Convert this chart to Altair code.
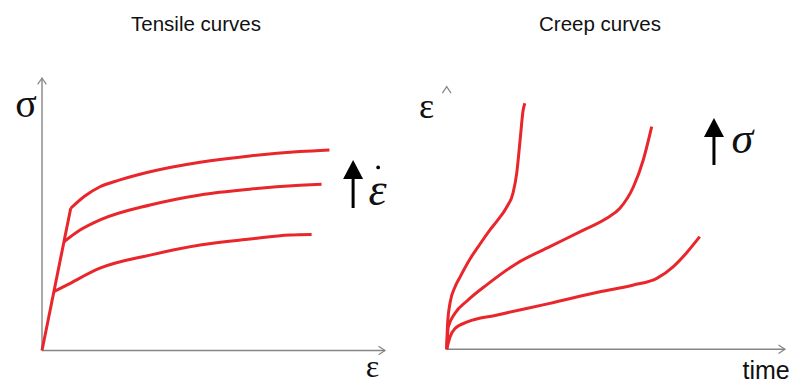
import altair as alt
import pandas as pd

# ---------------- Tensile panel (strain, stress; axis length = 1) ----------------
elastic_strain = [0.0, 0.0837]
elastic_stress = [0.0, 0.522]
tens_high_strain = [0.0837, 0.125, 0.169, 0.227, 0.315, 0.461, 0.606, 0.752, 0.838]
tens_high_stress = [0.522, 0.567, 0.601, 0.626, 0.656, 0.691, 0.714, 0.730, 0.736]
tens_mid_strain = [0.064, 0.111, 0.169, 0.315, 0.461, 0.606, 0.752, 0.815]
tens_mid_stress = [0.399, 0.442, 0.479, 0.534, 0.571, 0.592, 0.606, 0.610]
tens_low_strain = [0.0346, 0.072, 0.169, 0.315, 0.461, 0.606, 0.723, 0.786]
tens_low_stress = [0.216, 0.240, 0.302, 0.350, 0.387, 0.409, 0.424, 0.426]

# ---------------- Creep panel (time, strain; axis length = 1) ----------------
creep_high_time = [0.0, 0.0024, 0.0098, 0.0245, 0.0393, 0.0689, 0.0985, 0.128, 0.149, 0.178, 0.196, 0.207, 0.217, 0.226, 0.231]
creep_high_strain = [0.0, 0.0925, 0.176, 0.237, 0.275, 0.344, 0.401, 0.455, 0.489, 0.543, 0.595, 0.671, 0.797, 0.911, 0.937]
creep_mid_time = [0.0, 0.0047, 0.0245, 0.060, 0.122, 0.207, 0.305, 0.404, 0.473, 0.512, 0.552, 0.581, 0.606]
creep_mid_strain = [0.0, 0.085, 0.137, 0.184, 0.249, 0.327, 0.391, 0.454, 0.499, 0.537, 0.619, 0.721, 0.848]
creep_low_time = [0.0, 0.0098, 0.0245, 0.063, 0.143, 0.305, 0.453, 0.552, 0.621, 0.670, 0.708, 0.748]
creep_low_strain = [0.0, 0.047, 0.079, 0.105, 0.129, 0.175, 0.219, 0.245, 0.270, 0.315, 0.366, 0.429]

# ---------------- labels ----------------
tens_title = ["Tensile curves"]
creep_title = ["Creep curves"]
tens_y_label, tens_x_label, tens_rate_label = "σ", "ε", "ε"
creep_y_label, creep_x_label, creep_stress_label = "ε", "time", "σ"

RED = "#e8262b"
GRAY = "#858585"
W, H = 781, 377

# scale domains chosen so that each panel sits in its half of the canvas
xl = alt.Scale(domain=[-0.09913, 2.17784], nice=False, zero=False)
yl = alt.Scale(domain=[-0.1266, 1.25688], nice=False, zero=False)
xr = alt.Scale(domain=[-1.29678, 1.01182], nice=False, zero=False)
yr = alt.Scale(domain=[-0.1359, 1.29970], nice=False, zero=False)

UP_CHEVRON = "M-1,1.5L0,0L1,1.5"
RIGHT_CHEVRON = "M-1.5,-1L0,0L-1.5,1"
ARROW_HEAD = "M0,0L-1,1.9L1,1.9Z"


def curves(series, xs_scale, ys_scale):
    rows = []
    for name, xs, ys in series:
        for a, b in zip(xs, ys):
            rows.append({"s": name, "x": a, "y": b})
    df = pd.DataFrame(rows)
    return alt.Chart(df).mark_line(color=RED, strokeWidth=3, interpolate="monotone").encode(
        x=alt.X("x:Q", scale=xs_scale, axis=None),
        y=alt.Y("y:Q", scale=ys_scale, axis=None),
        detail="s:N",
    )


def rules(rows, xs_scale, ys_scale, color, width):
    df = pd.DataFrame(rows, columns=["x", "x2", "y", "y2"])
    return alt.Chart(df).mark_rule(color=color, strokeWidth=width).encode(
        x=alt.X("x:Q", scale=xs_scale, axis=None), x2="x2:Q",
        y=alt.Y("y:Q", scale=ys_scale, axis=None), y2="y2:Q",
    )


def symbols(rows, xs_scale, ys_scale, shape, size, filled, color, sw):
    df = pd.DataFrame(rows, columns=["x", "y"])
    return alt.Chart(df).mark_point(shape=shape, size=size, filled=filled, color=color,
                                    strokeWidth=sw, opacity=1).encode(
        x=alt.X("x:Q", scale=xs_scale, axis=None),
        y=alt.Y("y:Q", scale=ys_scale, axis=None),
    )


def texts(rows, xs_scale, ys_scale, font, style="normal", color="#111111"):
    df = pd.DataFrame(rows, columns=["t", "x", "y", "fs"])
    return alt.Chart(df).mark_text(font=font, fontStyle=style, color=color,
                                   align="center", baseline="alphabetic").encode(
        x=alt.X("x:Q", scale=xs_scale, axis=None),
        y=alt.Y("y:Q", scale=ys_scale, axis=None),
        text="t:N",
        size=alt.Size("fs:Q", scale=None, legend=None),
    )


left = alt.layer(
    rules([[0, 0, 0, 1], [0, 1, 0, 0]], xl, yl, GRAY, 1.4),
    symbols([[0, 1]], xl, yl, UP_CHEVRON, 74, False, GRAY, 1.2),
    symbols([[1, 0]], xl, yl, RIGHT_CHEVRON, 74, False, GRAY, 1.2),
    curves([("elastic", elastic_strain, elastic_stress),
            ("high", tens_high_strain, tens_high_stress),
            ("mid", tens_mid_strain, tens_mid_stress),
            ("low", tens_low_strain, tens_low_stress)], xl, yl),
    rules([[0.907, 0.907, 0.523, 0.655]], xl, yl, "#000000", 3),
    symbols([[0.907, 0.699]], xl, yl, ARROW_HEAD, 400, True, "#000000", 0),
    symbols([[0.980, 0.672]], xl, yl, "circle", 14, True, "#000000", 0),
    texts([[tens_title[0], 0.449, 1.1725, 20.5]], xl, yl, "Liberation Sans"),
    texts([[tens_y_label, -0.0466, 0.857, 40]], xl, yl, "Liberation Serif"),
    texts([[tens_x_label, 0.9636, -0.098, 32]], xl, yl, "Liberation Serif"),
    texts([[tens_rate_label, 0.978, 0.534, 46]], xl, yl, "Liberation Serif", "italic"),
)

right = alt.layer(
    rules([[0, 1, 0, 0]], xr, yr, GRAY, 1.4),
    symbols([[0, 1]], xr, yr, UP_CHEVRON, 74, False, GRAY, 1.2),
    symbols([[1, 0]], xr, yr, RIGHT_CHEVRON, 74, False, GRAY, 1.2),
    curves([("high", creep_high_time, creep_high_strain),
            ("mid", creep_mid_time, creep_mid_strain),
            ("low", creep_low_time, creep_low_strain)], xr, yr),
    rules([[0.790, 0.790, 0.702, 0.831]], xr, yr, "#000000", 3),
    symbols([[0.790, 0.881]], xr, yr, ARROW_HEAD, 400, True, "#000000", 0),
    texts([[creep_title[0], 0.453, 1.212, 20.5]], xr, yr, "Liberation Sans"),
    texts([[creep_x_label, 0.944, -0.112, 25]], xr, yr, "Liberation Sans"),
    texts([[creep_y_label, -0.0597, 0.881, 36]], xr, yr, "Liberation Serif"),
    texts([[creep_stress_label, 0.874, 0.748, 44]], xr, yr, "Liberation Serif", "italic"),
)

chart = alt.layer(left, right).resolve_scale(x="independent", y="independent").properties(
    width=W, height=H, padding=0, autosize=alt.AutoSizeParams(type="none"),
    background="white",
).configure_view(stroke=None)

chart.save("out.html", embed_options={"renderer": "svg", "actions": False})
